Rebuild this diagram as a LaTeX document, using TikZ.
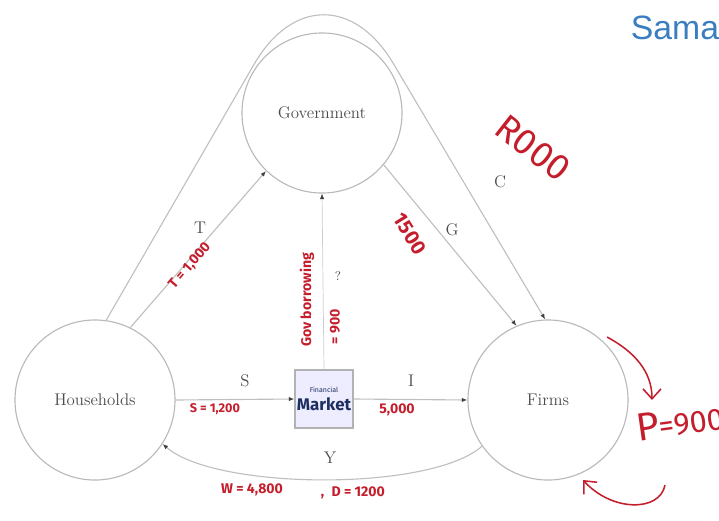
\documentclass[tikz,border=0pt]{standalone}
\usepackage{fontspec}
\newfontfamily\handfont{Fira Sans}
\newfontfamily\webfont{Liberation Sans}
\usetikzlibrary{arrows.meta}
\definecolor{inkred}{RGB}{196,30,45}
\definecolor{webblue}{RGB}{58,125,192}
\definecolor{navyink}{RGB}{30,45,95}

\begin{document}
\begin{tikzpicture}[
  x=0.025cm,
  y=-0.025cm,
  every node/.style={font=\large, text=black!70},
  sector/.style={
    draw=gray!55,
    line width=0.8pt,
    circle,
    minimum size=4cm,
    inner sep=0pt
  },
  market/.style={
    draw=gray!60,
    line width=0.8pt,
    fill=blue!7,
    minimum size=1.45cm,
    align=center,
    inner sep=1pt,
    text=navyink
  },
  flow/.style={draw=gray!50, line width=0.8pt, -{Latex[length=1.4mm,width=1.1mm,color=black!75]}},
  note/.style={text=inkred},
  scribble/.style={draw=inkred, line width=1.1pt, -{Straight Barb[length=2.5mm,width=4.5mm]}}
]
\useasboundingbox (0,0) rectangle (719,521);

% sectors and market
\node[sector] (gov) at (322,113) {Government};
\node[sector] (house) at (95,400) {Households};
\node[sector] (firms) at (548,400) {Firms};
\node[market] (fin) at (324,399) {{\handfont\tiny Financial}\\[-1pt]{\handfont\bfseries Market}};
\coordinate (apex) at (323,-55);

% flows
\draw[flow] (house.64) -- (gov.-134);
\draw[flow] (gov.-40) -- (firms.113);
\draw[flow, rounded corners=3.45cm] (house.82) -- (apex) -- (firms.92);
\draw[flow] (house.east) -- (fin.west);
\draw[flow] (fin.east) -- (firms.west);
\draw[flow, draw=gray!40, line width=0.5pt] (fin.north) -- (gov.south);
\draw[flow] (firms.-145) .. controls (430,492) and (215,490) .. (house.-33);

% flow labels
\node (lblT) at (200,228) {T};
\node (lblG) at (452,230) {G};
\node (lblC) at (500,182) {C};
\node (lblS) at (245,381) {S};
\node (lblI) at (411,381) {I};
\node (lblY) at (330,458) {Y};
\node[font=\small] (lblB) at (338,276) {?};

% handwritten notes
\node[note, font=\handfont\bfseries\normalsize, rotate=49] (taxval) at (190,266) {T = 1,000};
\node[note, font=\handfont\bfseries\Large, rotate=-58] (govval) at (410,234) {1500};
\node[note, font=\handfont\fontsize{26}{28}\selectfont, rotate=-38] (conval) at (533,148) {R000};
\node[note, font=\handfont\bfseries\normalsize, rotate=90] (borrow) at (307,300) {Gov borrowing};
\node[note, font=\handfont\bfseries\normalsize, rotate=90] (borrowval) at (335,327) {= 900};
\node[note, font=\handfont\bfseries\small] (saveval) at (215,409) {S = 1,200};
\node[note, font=\handfont\bfseries\normalsize] (invval) at (397,410) {5,000};
\node[note, font=\handfont\bfseries\normalsize] (wageval) at (252,490) {W = 4,800};
\node[note, font=\handfont\bfseries\normalsize, anchor=west] (profval) at (316,493) {,\; D = 1200};
\node[note, font=\handfont\fontsize{22}{24}\selectfont, anchor=west, rotate=8, inner sep=0pt] (priceval) at (636,428) {{\fontsize{28}{30}\selectfont P}=900};
\node[font=\webfont\fontsize{24}{26}\selectfont, text=webblue, anchor=west] (brand) at (626,28) {Sama};

\draw[scribble] (607,337) .. controls (635,352) and (652,372) .. (652,400);
\draw[scribble] (665,485) .. controls (660,512) and (612,512) .. (583,480);
\end{tikzpicture}
\end{document}
